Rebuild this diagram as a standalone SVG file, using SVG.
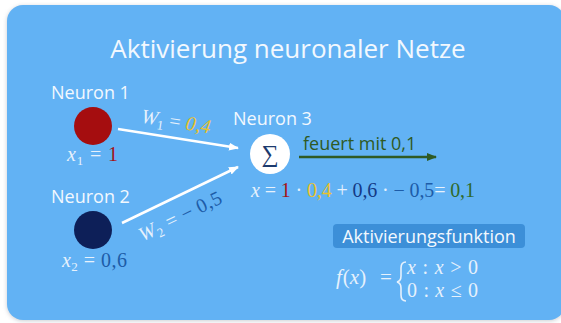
<svg xmlns="http://www.w3.org/2000/svg" width="561" height="323" viewBox="0 0 561 323">
<defs>
<style>
.lab{font-family:"Open Sans","DejaVu Sans",sans-serif;font-size:18px;fill:#f2f8fe}
.m{font-family:"Liberation Serif","DejaVu Serif",serif;font-size:20px;fill:#e6f1fc}
.i{font-style:italic}
.red{fill:#a41418}
.yel{fill:#e9c12c}
.dblue{fill:#143a86}
.mblue{fill:#1d5ca8}
.grn{fill:#2f6a2c}
</style>
<marker id="aw" viewBox="0 0 10 10" refX="9" refY="5" markerWidth="4" markerHeight="4" orient="auto" markerUnits="strokeWidth"><path d="M0,1 L10,5 L0,9 z" fill="#ffffff"/></marker>
<marker id="ag" viewBox="0 0 10 10" refX="9" refY="5" markerWidth="4" markerHeight="4" orient="auto" markerUnits="strokeWidth"><path d="M0,1 L10,5 L0,9 z" fill="#2f5a24"/></marker>
<filter id="sh" x="-5%" y="-5%" width="110%" height="110%"><feGaussianBlur stdDeviation="2"/></filter>
</defs>
<rect width="561" height="323" fill="#ffffff"/>
<rect x="7" y="6" width="558" height="315" rx="16" fill="#c9cdd2" filter="url(#sh)"/>
<rect x="7" y="5" width="558" height="315" rx="16" fill="#62b2f4"/>
<text x="288" y="58" text-anchor="middle" style="font-family:'Open Sans','DejaVu Sans',sans-serif;font-size:26px;fill:#f2f8fe">Aktivierung neuronaler Netze</text>

<g id="connectors">
<line x1="118" y1="129" x2="238" y2="148" stroke="#ffffff" stroke-width="2.5" marker-end="url(#aw)"/>
<line x1="122" y1="223" x2="238" y2="167" stroke="#ffffff" stroke-width="2.5" marker-end="url(#aw)"/>
<line x1="299" y1="157" x2="436" y2="157" stroke="#2f5a24" stroke-width="2.5" marker-end="url(#ag)"/>
<text class="m" transform="translate(175,128) rotate(9)" text-anchor="middle" textLength="70" lengthAdjust="spacing"><tspan class="i">W</tspan><tspan font-size="13" dy="4">1</tspan><tspan dy="-4"> = </tspan><tspan class="yel i">0,4</tspan></text>
<text class="m" transform="translate(183,222) rotate(-26)" text-anchor="middle" textLength="90" lengthAdjust="spacing"><tspan class="i">W</tspan><tspan font-size="13" dy="4">2</tspan><tspan dy="-4"> = </tspan><tspan class="mblue">− 0,5</tspan></text>
<text x="303" y="150" class="lab" style="fill:#2f5a24">feuert mit 0,1</text>
</g>

<g id="neuron1">
<text x="51" y="99" class="lab">Neuron 1</text>
<circle cx="93" cy="126" r="19" fill="#a50d0f"/>
<text x="67" y="161" class="m" textLength="51" lengthAdjust="spacing"><tspan class="i">x</tspan><tspan font-size="13" dy="4">1</tspan><tspan dy="-4"> = </tspan><tspan class="red">1</tspan></text>
</g>

<g id="neuron2">
<text x="51" y="203" class="lab">Neuron 2</text>
<circle cx="93" cy="230" r="19" fill="#0d1f58"/>
<text x="62" y="267" class="m" textLength="65" lengthAdjust="spacing"><tspan class="i">x</tspan><tspan font-size="13" dy="4">2</tspan><tspan dy="-4"> = </tspan><tspan class="mblue">0,6</tspan></text>
</g>

<g id="neuron3">
<text x="233" y="125" class="lab">Neuron 3</text>
<circle cx="270" cy="154" r="20" fill="#ffffff"/>
<text x="270" y="162" text-anchor="middle" style="font-family:'Liberation Serif','DejaVu Serif',serif;font-size:24px;fill:#1c3a6e">∑</text>
<text x="251" y="197" class="m" textLength="224" lengthAdjust="spacing"><tspan class="i">x</tspan> = <tspan class="red">1</tspan> · <tspan class="yel">0,4</tspan> + <tspan class="dblue">0,6</tspan> · <tspan class="mblue">− 0,5</tspan>= <tspan class="grn">0,1</tspan></text>
</g>

<g id="aktivierungsfunktion">
<rect x="333" y="224" width="192" height="24" rx="4" fill="#3c8fd8"/>
<text x="429" y="243" text-anchor="middle" class="lab">Aktivierungsfunktion</text>
<text x="336" y="284" class="m" style="font-size:21px"><tspan class="i">f</tspan><tspan dx="1">(</tspan><tspan class="i">x</tspan>)<tspan x="380">=</tspan></text>
<path d="M406,262 Q401,262 401,268 L401,276 Q401,281 397,282 Q401,283 401,288 L401,295 Q401,301 406,301" fill="none" stroke="#e6f1fc" stroke-width="1.6"/>
<text x="407" y="274" class="m" textLength="71" lengthAdjust="spacing"><tspan class="i">x</tspan> : <tspan class="i">x</tspan> &gt; 0</text>
<text x="407" y="297" class="m" textLength="71" lengthAdjust="spacing">0 : <tspan class="i">x</tspan> ≤ 0</text>
</g>
</svg>
